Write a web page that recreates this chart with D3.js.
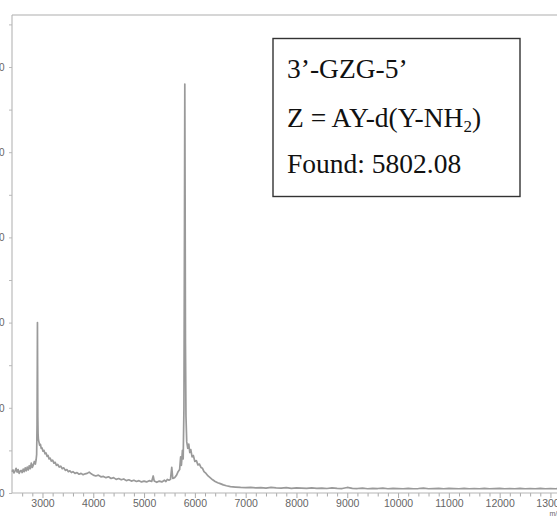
<!DOCTYPE html>
<html>
<head>
<meta charset="utf-8">
<script src="https://cdn.jsdelivr.net/npm/d3@7"></script>
<style>
  html, body { margin: 0; padding: 0; background: #fff; overflow: hidden; }
  svg { display: block; }
</style>
</head>
<body>
<svg id="chart" width="557" height="516"></svg>
<script>
// ---- data ----
const mz = [
  2400,2420,2440,2460,2480,2500,2520,2540,2560,2580,2600,2620,2640,2660,2680,2700,2720,2740,2760,2780,
  2800,2820,2840,2860,2875,2885,2893,2898,2901,2904,2908,2913,2920,2930,2945,2960,2975,2990,3010,3030,
  3050,3070,3090,3110,3130,3150,3175,3200,3225,3250,3275,3300,3330,3360,3390,3420,3450,3480,3510,3540,
  3570,3600,3640,3680,3720,3760,3800,3840,3880,3920,3960,4000,4050,4100,4150,4200,4250,4300,4350,4400,
  4450,4500,4550,4600,4650,4700,4750,4800,4850,4900,4950,5000,5050,5100,5150,5180,5200,5250,5300,5350,
  5400,5430,5460,5490,5520,5545,5565,5600,5640,5670,5700,5720,5735,5755,5770,5785,5795,5802,5808,5815,
  5825,5840,5860,5880,5900,5920,5945,5970,6000,6030,6060,6090,6120,6150,6180,6220,6260,6300,6350,6400,
  6450,6500,6560,6620,6700,6800,6900,7000,7100,7200,7300,7400,7500,7600,7700,7800,7900,8000,8100,8200,
  8300,8400,8500,8600,8700,8800,8900,9000,9100,9200,9300,9400,9500,9600,9700,9800,9900,10000,10100,10200,
  10300,10400,10500,10600,10700,10800,10900,11000,11100,11200,11300,11400,11500,11600,11700,11800,11900,12000,12100,12200,
  12300,12400,12500,12600,12700,12800,12900,13000,13100,13200
];
const intensity = [
  5.0,5.4,4.7,5.2,5.8,4.9,5.5,4.6,5.1,5.3,4.8,5.6,5.0,5.9,5.2,6.1,5.4,6.4,5.7,7.0,
  6.0,6.6,7.4,6.8,7.8,9.0,16,30,40,30,18,14,12.5,12.0,11.2,11.4,10.5,10.6,9.8,10.0,
  9.2,9.4,8.6,8.8,8.0,8.2,7.5,7.7,7.0,7.2,6.5,6.7,6.1,6.3,5.7,5.9,5.3,5.5,5.0,5.2,
  4.8,5.0,4.6,4.8,4.4,4.6,4.3,4.5,4.6,4.9,4.5,4.2,4.0,4.2,3.8,3.9,3.6,3.8,3.4,3.6,
  3.2,3.4,3.1,3.3,2.9,3.1,2.8,3.0,2.7,2.9,2.6,2.8,2.6,2.9,2.7,4.0,2.8,2.5,2.8,2.6,
  3.0,2.7,3.2,3.0,3.2,6.0,3.4,3.6,4.2,5.0,5.5,8.5,6.5,10.0,8.0,20,60,96,70,35,
  18,12,10.5,11.5,9.5,10.2,8.5,8.8,7.4,7.6,6.6,6.8,6.0,5.8,5.0,4.6,4.0,3.6,3.1,2.7,
  2.4,2.2,1.9,1.7,1.5,1.4,1.3,1.25,1.3,1.2,1.25,1.15,1.3,1.2,1.15,1.25,1.1,1.2,1.15,1.1,
  1.2,1.1,1.15,1.05,1.2,1.1,1.05,1.3,1.1,1.05,1.15,1.0,1.1,1.05,1.15,1.0,1.1,1.05,1.0,1.1,
  1.0,1.05,1.15,1.0,1.05,1.1,1.0,1.1,1.05,1.0,1.1,1.0,1.05,1.0,1.1,1.0,1.05,1.1,1.0,1.05,
  1.0,1.1,1.0,1.05,1.0,1.1,1.0,1.05,1.0,1.05
];
const yTicks = [0, 20, 40, 60, 80, 100];
const xTicks = [3000,4000,5000,6000,7000,8000,9000,10000,11000,12000,13000];
const xLabel = "m/z";
const annotation = ["3’-GZG-5’", "Z = AY-d(Y-NH", "Found: 5802.08"];

// ---- layout ----
const svg = d3.select("#chart");
const padL = 12, padB = 493, padT = 15;
const x = d3.scaleLinear().domain([2400, 13200]).range([padL, 560.6]);
const y = d3.scaleLinear().domain([0, 100]).range([padB, 67]);

// frame: top line
svg.append("line").attr("x1", padL).attr("x2", 557).attr("y1", padT).attr("y2", padT)
  .attr("stroke", "#c8c8c8").attr("stroke-width", 1.6);

// y axis
const yMinor = d3.range(0, 121, 10);
const yAxis = d3.axisLeft(y).tickValues(yMinor).tickSize(3)
  .tickFormat(d => yTicks.includes(d) ? String(d) : "");
const gy = svg.append("g").attr("transform", `translate(${padL},0)`).call(yAxis);
gy.select(".domain").remove();
gy.selectAll(".tick line").attr("stroke", "#bbb");
gy.selectAll(".tick text").attr("x", -7.5).attr("fill", "#666")
  .style("font-family", "Liberation Sans, Arial, sans-serif").style("font-size", "10px");
svg.append("line").attr("x1", padL).attr("x2", padL).attr("y1", padT).attr("y2", padB)
  .attr("stroke", "#b5b5b5").attr("stroke-width", 1.1);

// x axis
const xMinor = d3.range(2600, 13201, 200);
const xAxis = d3.axisBottom(x).tickValues(xMinor).tickSize(4)
  .tickFormat(d => xTicks.includes(d) ? String(d) : "");
const gx = svg.append("g").attr("transform", `translate(0,${padB})`).call(xAxis);
gx.select(".domain").remove();
gx.selectAll(".tick line").attr("stroke", "#aaa")
  .attr("y2", d => xTicks.includes(d) ? 5 : 3.5);
gx.selectAll(".tick text").attr("y", 7).attr("fill", "#666")
  .style("font-family", "Liberation Sans, Arial, sans-serif").style("font-size", "10.5px");
svg.append("line").attr("x1", padL).attr("x2", 557).attr("y1", padB).attr("y2", padB)
  .attr("stroke", "#b5b5b5").attr("stroke-width", 1.1);
svg.append("text").attr("x", x(13000) - 1).attr("y", 516).attr("fill", "#666")
  .style("font-family", "Liberation Sans, Arial, sans-serif").style("font-size", "7px")
  .text(xLabel);

// spectrum
const pts = mz.map((m, i) => [m, intensity[i]]);
svg.append("path").datum(pts)
  .attr("fill", "none").attr("stroke", "#9a9a9a").attr("stroke-width", 1.7)
  .attr("stroke-linejoin", "round")
  .attr("d", d3.line().x(d => x(d[0])).y(d => y(d[1])));

// annotation box
svg.append("rect").attr("x", 273).attr("y", 38.5).attr("width", 247).attr("height", 158)
  .attr("fill", "#fff").attr("stroke", "#333").attr("stroke-width", 1.4);
const font = "Liberation Serif, Times New Roman, serif";
svg.append("text").attr("x", 287).attr("y", 78).style("font-family", font)
  .style("font-size", "27.5px").attr("fill", "#111").text(annotation[0]);
const t2 = svg.append("text").attr("x", 287).attr("y", 127).style("font-family", font)
  .style("font-size", "27.5px").attr("fill", "#111");
t2.append("tspan").text(annotation[1]);
t2.append("tspan").attr("dy", 5).style("font-size", "17px").text("2");
t2.append("tspan").attr("dy", -5).text(")");
svg.append("text").attr("x", 287).attr("y", 173).style("font-family", font)
  .style("font-size", "27.5px").attr("fill", "#111").text(annotation[2]);
</script>
</body>
</html>
